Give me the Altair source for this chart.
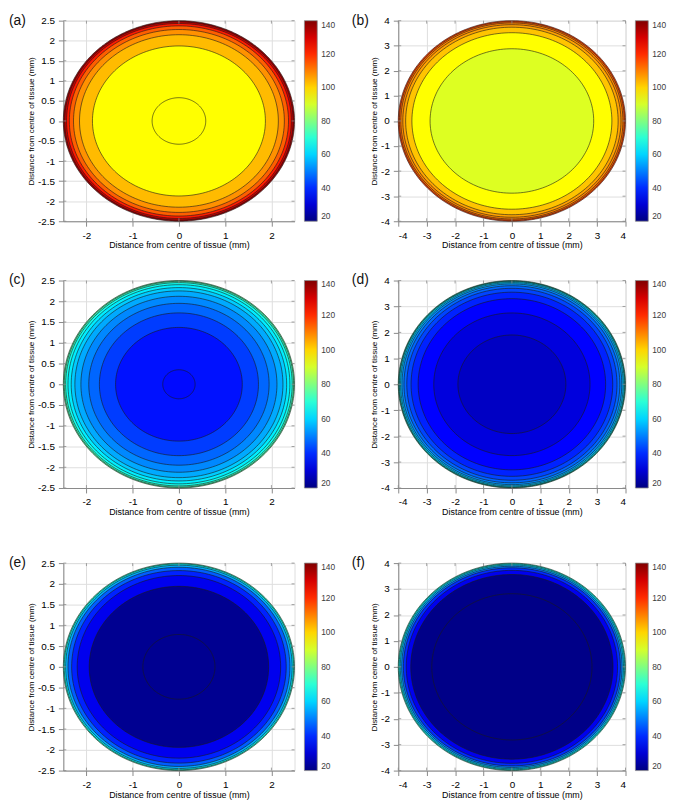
import altair as alt
import numpy as np
import pandas as pd

# ---------------- data ----------------
panel_labels = ["(a)", "(b)", "(c)", "(d)", "(e)", "(f)"]
extents = [2.5, 4.0, 2.5, 4.0, 2.5, 4.0]

# contour radii (mm), outermost first, and colour value of the band inside each radius
radii_a = [2.50, 2.47, 2.43, 2.37, 2.28, 2.15, 1.87, 0.58]
values_a = [137, 131, 122, 114, 108, 103, 95, 95]

radii_b = [4.00, 3.96, 3.91, 3.84, 3.74, 3.52, 2.88]
values_b = [118, 113, 109, 106, 102, 95, 91]

radii_c = [2.50, 2.48, 2.45, 2.40, 2.33, 2.25, 2.12, 1.95, 1.72, 1.37, 0.35]
values_c = [76, 72, 67, 63, 59, 55, 51, 47, 42, 37, 36]

radii_d = [4.00, 3.98, 3.96, 3.92, 3.87, 3.80, 3.70, 3.55, 3.30, 2.75, 1.90]
values_d = [72, 66, 61, 56, 51, 47, 43, 39, 35, 31, 28]

radii_e = [2.50, 2.48, 2.45, 2.40, 2.32, 2.20, 1.94, 0.78]
values_e = [72, 64, 55, 46, 39, 33, 22, 22]

radii_f = [4.00, 3.97, 3.93, 3.88, 3.82, 3.72, 3.56, 2.82]
values_f = [70, 63, 56, 48, 40, 33, 21, 21]

all_radii = [radii_a, radii_b, radii_c, radii_d, radii_e, radii_f]
all_values = [values_a, values_b, values_c, values_d, values_e, values_f]

ticks_small_x = [-2, -1, 0, 1, 2]
ticks_small_y = [-2.5, -2, -1.5, -1, -0.5, 0, 0.5, 1, 1.5, 2, 2.5]
ticks_large = [-4, -3, -2, -1, 0, 1, 2, 3, 4]
colorbar_ticks = [20, 40, 60, 80, 100, 120, 140]

jet_domain = [20, 35, 65, 95, 125, 140]
jet_colors = ["#000080", "#0000ff", "#00ffff", "#ffff00", "#ff0000", "#800000"]

axis_title = "Distance from centre of tissue (mm)"
FONT = "Liberation Sans"
TXT = "#3c3c3c"
FRAME = "#8a8a8a"

half_angles = pd.DataFrame({"deg": np.arange(0, 181, 1)})
full_angles = pd.DataFrame({"deg": np.arange(0, 362, 2)})

jet = alt.Scale(domain=jet_domain, range=jet_colors, type="linear", interpolate="rgb")


def panel(i, w, h, lab_dx):
    R = extents[i]
    bands = pd.DataFrame({"band": list(range(len(all_radii[i]))),
                          "r": all_radii[i], "v": all_values[i]})
    half = bands.merge(half_angles, how="cross")
    full = bands.merge(full_angles, how="cross")
    xt = ticks_small_x if R < 3 else ticks_large
    yt = ticks_small_y if R < 3 else ticks_large

    sc = alt.Scale(domain=[-R, R], nice=False, zero=False)
    xaxis = alt.Axis(values=xt, title=axis_title, labelExpr="toString(datum.value)",
                     labelPadding=4, titlePadding=1, titleFontSize=9,
                     titleFontWeight="normal", titleFont=FONT, labelFont=FONT)
    yaxis = alt.Axis(values=yt, title=axis_title, labelExpr="toString(datum.value)",
                     labelPadding=4, titlePadding=2, titleFontSize=8.2,
                     titleFontWeight="normal", titleFont=FONT, labelFont=FONT)
    xs = alt.X("x:Q", scale=sc, axis=xaxis)
    ys = alt.Y("y:Q", scale=sc, axis=yaxis)

    fill = alt.Chart(half).transform_calculate(
        x="datum.r*cos(datum.deg*PI/180)",
        y="datum.r*sin(datum.deg*PI/180)",
        y2="-datum.r*sin(datum.deg*PI/180)",
    ).mark_area(strokeWidth=0).encode(
        x=xs,
        y=alt.Y("y:Q", scale=sc, axis=yaxis, stack=False),
        y2="y2:Q",
        color=alt.Color("v:Q", scale=jet,
                        legend=alt.Legend(title=None, values=colorbar_ticks, orient="right",
                                          offset=8, direction="vertical", gradientLength=h,
                                          gradientThickness=13, labelFontSize=8.5,
                                          labelColor=TXT, labelFont=FONT,
                                          gradientStrokeColor=FRAME, gradientStrokeWidth=0.8,
                                          labelOffset=4, padding=0)),
        detail="band:N",
    )

    lines = alt.Chart(full).transform_calculate(
        x="datum.r*cos(datum.deg*PI/180)",
        y="datum.r*sin(datum.deg*PI/180)",
    ).mark_line(color="#1a1a1a", strokeWidth=0.6).encode(
        x=xs, y=ys, order="deg:Q", detail="band:N")

    xtd = pd.DataFrame({"x": xt})
    ytd = pd.DataFrame({"y": yt})
    tk_b = alt.Chart(xtd).mark_rule(color=FRAME, strokeWidth=0.8).encode(
        x=xs, y=alt.value(h), y2=alt.value(h - 3))
    tk_t = alt.Chart(xtd).mark_rule(color=FRAME, strokeWidth=0.8).encode(
        x=xs, y=alt.value(0), y2=alt.value(3))
    tk_l = alt.Chart(ytd).mark_rule(color=FRAME, strokeWidth=0.8).encode(
        y=ys, x=alt.value(0), x2=alt.value(3))
    tk_r = alt.Chart(ytd).mark_rule(color=FRAME, strokeWidth=0.8).encode(
        y=ys, x=alt.value(w), x2=alt.value(w - 3))

    lab = alt.Chart(pd.DataFrame({"lab": [panel_labels[i]]})).mark_text(
        align="left", baseline="middle", fontSize=14, font=FONT, color="#111111"
    ).encode(x=alt.value(lab_dx), y=alt.value(0), text="lab:N")

    return alt.layer(fill, lines, tk_b, tk_t, tk_l, tk_r, lab).properties(width=w, height=h)


W_L, W_R = 234, 230
row_heights = [203, 210, 210]
rows = []
for r in range(3):
    left = panel(2 * r, W_L, row_heights[r], -55)
    right = panel(2 * r + 1, W_R, row_heights[r], -47)
    rows.append(alt.hconcat(left, right, spacing=14).resolve_scale(color="independent"))

top = alt.vconcat(rows[0], rows[1], spacing=22).resolve_scale(color="independent")
chart = alt.vconcat(top, rows[2], spacing=38).resolve_scale(color="independent").properties(
    padding={"left": 0, "top": 0, "right": 0, "bottom": 0}
).configure_view(stroke=FRAME, strokeWidth=1).configure_axis(
    labelFont=FONT, titleFont=FONT, labelFontSize=8.5, labelColor=TXT, titleColor=TXT,
    titleFontWeight="normal", domain=False, ticks=False, tickSize=0, grid=False
).configure(background="white")

chart.save("out.html", embed_options={"renderer": "svg", "actions": False})
